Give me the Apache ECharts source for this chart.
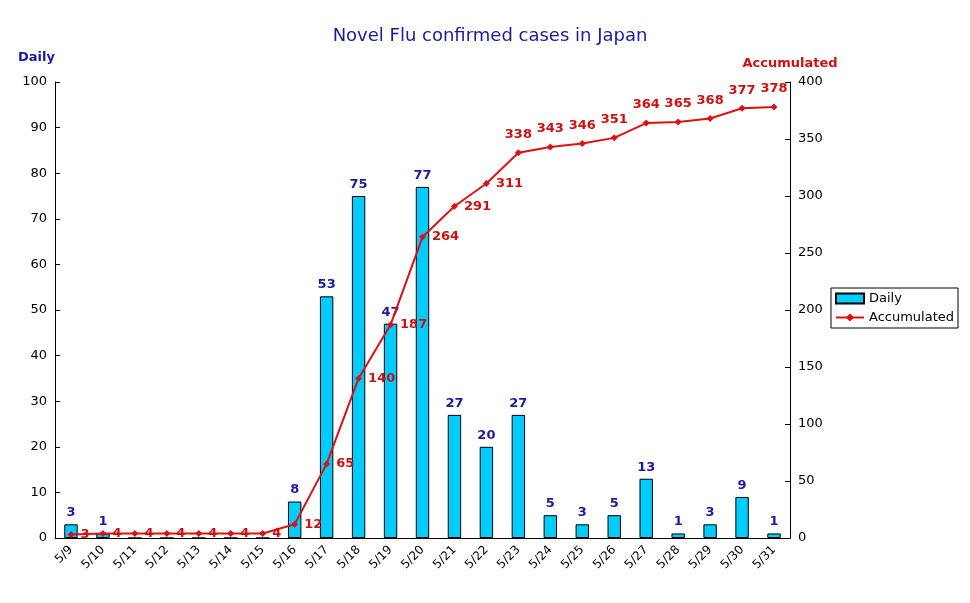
<!DOCTYPE html>
<html>
<head>
<meta charset="utf-8">
<script src="https://cdn.jsdelivr.net/npm/echarts@6/dist/echarts.min.js"></script>
<style>
	html, body { margin: 0; padding: 0; background: #fff; }
	#chart { width: 970px; height: 603px; }
</style>
</head>
<body>
<div id="chart"></div>
<script>
const dates = ["5/9", "5/10", "5/11", "5/12", "5/13", "5/14", "5/15", "5/16", "5/17", "5/18", "5/19", "5/20",
	"5/21", "5/22", "5/23", "5/24", "5/25", "5/26", "5/27", "5/28", "5/29", "5/30", "5/31"];
const daily = [3, 1, 0, 0, 0, 0, 0, 8, 53, 75, 47, 77, 27, 20, 27, 5, 3, 5, 13, 1, 3, 9, 1];
const accumulated = [3, 4, 4, 4, 4, 4, 4, 12, 65, 140, 187, 264, 291, 311, 338, 343, 346, 351, 364, 365, 368, 377, 378];

const font = "'DejaVu Sans', sans-serif";
const chart = echarts.init(document.getElementById("chart"));

// labels sit right of the point until 5/23, then above it
const accData = accumulated.map((v, i) => i >= 14
	? { value: v, label: { position: "top", distance: 8 } }
	: v);

chart.setOption({
	animation: false,
	textStyle: { fontFamily: font },
	title: {
		text: "Novel Flu confirmed cases in Japan",
		left: 485, top: 22, textAlign: "center",
		textStyle: { color: "#1a1aa0", fontSize: 18, fontWeight: "normal", fontFamily: font }
	},
	legend: {
		right: 12, top: 288, orient: "vertical",
		itemWidth: 28, itemHeight: 10, itemGap: 6,
		padding: [4, 4],
		borderColor: "#000", borderWidth: 1,
		textStyle: { fontSize: 13, color: "#000" },
		data: [
			{ name: "Daily", icon: "rect" },
			{ name: "Accumulated" }
		]
	},
	grid: { left: 55, right: 180, top: 82, bottom: 65 },
	xAxis: {
		type: "category",
		data: dates,
		axisLine: { lineStyle: { color: "#000" } },
		axisTick: { show: false },
		axisLabel: { rotate: 45, color: "#000", fontSize: 12, margin: 10, interval: 0 }
	},
	yAxis: [
		{
			type: "value", min: 0, max: 100, interval: 10,
			name: "Daily", nameGap: 18,
			nameTextStyle: { color: "#1a1aa0", fontWeight: "bold", fontSize: 13, align: "right" },
			axisLine: { show: true, lineStyle: { color: "#000" } },
			axisTick: { show: true, inside: true },
			axisLabel: { color: "#000", fontSize: 13 },
			splitLine: { show: false }
		},
		{
			type: "value", min: 0, max: 400, interval: 50,
			name: "Accumulated", nameGap: 12,
			nameTextStyle: { color: "#d01010", fontWeight: "bold", fontSize: 13 },
			axisLine: { show: true, lineStyle: { color: "#000" } },
			axisTick: { show: true, inside: true },
			axisLabel: { color: "#000", fontSize: 13 },
			splitLine: { show: false }
		}
	],
	series: [
		{
			name: "Daily",
			type: "bar",
			data: daily,
			barWidth: "42%",
			itemStyle: { color: "#00ccff", borderColor: "#000", borderWidth: 1 },
			label: {
				show: true, position: "top", color: "#1a1aa0", fontWeight: "bold", fontSize: 13,
				formatter: p => p.value === 0 ? "" : p.value
			}
		},
		{
			name: "Accumulated",
			type: "line",
			yAxisIndex: 1,
			data: accData,
			symbol: "diamond", symbolSize: 7,
			itemStyle: { color: "#e01010" },
			lineStyle: { color: "#e01010", width: 2 },
			label: {
				show: true, position: "right", distance: 6, color: "#d01010", fontWeight: "bold", fontSize: 13
			}
		}
	]
});
</script>
</body>
</html>
